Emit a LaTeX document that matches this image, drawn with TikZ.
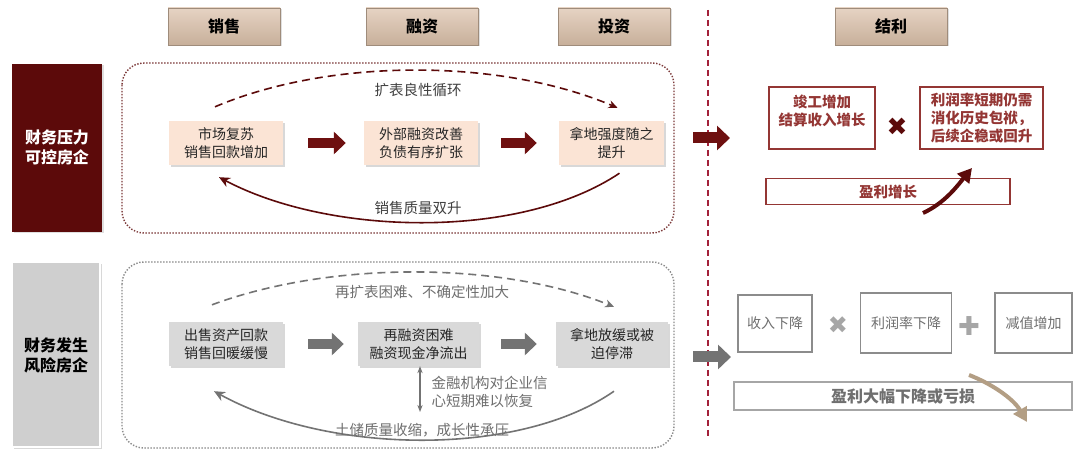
\documentclass[tikz,border=0pt]{standalone}
\usepackage{fontspec}
\setmainfont{Noto Sans CJK SC}
\newfontfamily\symfont{DejaVu Sans}
\usetikzlibrary{arrows.meta,shadows,calc,positioning}
\definecolor{maroon}{HTML}{5C0A0A}
\definecolor{arrowred}{HTML}{6E1010}
\definecolor{boxred}{HTML}{943634}
\definecolor{linered}{HTML}{A3213A}
\definecolor{peach}{HTML}{FBE4D5}
\definecolor{tanlight}{HTML}{E6D3C3}
\definecolor{tandark}{HTML}{C7AF9A}
\definecolor{greyfill}{HTML}{D9D9D9}
\definecolor{greyline}{HTML}{8C8C8C}
\definecolor{greytext}{HTML}{6F6F6F}
\definecolor{swooshtan}{HTML}{B39E84}
\tikzset{
  headbox/.style={top color=tanlight, bottom color=tandark, draw=tandark!80!black, minimum width=112pt, minimum height=37pt, font=\fontsize{16}{18}\selectfont\bfseries, drop shadow={opacity=0.25,shadow xshift=1.5pt,shadow yshift=-1.5pt}},
  stage/.style={align=center, minimum width=114pt, minimum height=44pt, text=black!85, font=\fontsize{14}{18}\selectfont, drop shadow={opacity=0.3,shadow xshift=2pt,shadow yshift=-2pt}},
  goodstage/.style={stage, fill=peach},
  badstage/.style={stage, fill=greyfill},
  blockarrow/.style={line width=10pt, -{Triangle[length=12pt,width=22pt]}},
  arclabel/.style={font=\fontsize{14.5}{18}\selectfont},
  profitbox/.style={draw=boxred, line width=1.5pt, text=boxred, align=center, font=\fontsize{14.5}{18}\selectfont\bfseries},
  lossbox/.style={draw=greyline, line width=1.8pt, text=greytext, align=center, font=\fontsize{14}{18}\selectfont},
}
\begin{document}
\begin{tikzpicture}[x=1pt,y=-1pt]
\useasboundingbox[fill=white] (0,0) rectangle (1080,462);
%HEADERS
\node (hsale) at (224,26.5) [headbox] {销售};
\node (hfin) at (422,26.5) [headbox] {融资};
\node (hinv) at (614,26.5) [headbox] {投资};
\node (hprof) at (891,26.5) [headbox] {结利};

%DIVIDER
\draw[linered, line width=1.3pt, dash pattern=on 6pt off 4pt] (708,10) -- (708,437);

%GOOD FIRMS
\node (good) at (57,148) [fill=maroon, text=white, minimum width=90pt, minimum height=168pt, align=center, font=\fontsize{16}{20}\selectfont\bfseries, drop shadow={opacity=0.25,shadow xshift=1.5pt,shadow yshift=-1.5pt}] {财务压力\\可控房企};
\draw[maroon!80, line width=1.4pt, dash pattern=on 1.4pt off 1.6pt, rounded corners=22pt] (122,63) rectangle (674,233);
\node (sell) at (226,143) [goodstage] {市场复苏\\销售回款增加};
\node (finance) at (421,143) [goodstage] {外部融资改善\\负债有序扩张};
\node (invest) at (611.5,143) [goodstage, minimum width=105pt] {拿地强度随之\\提升};
\draw[blockarrow, arrowred, shorten <=25pt, shorten >=18pt] (sell.east) -- (finance.west);
\draw[blockarrow, arrowred, shorten <=23pt, shorten >=22pt] (finance.east) -- (invest.west);
\draw[maroon, line width=1.6pt, dash pattern=on 8pt off 5pt, -{Stealth[length=9pt,width=8pt]}] ($(sell.north)+(-11,-14)$) .. controls (330,58) and (500,58) .. ($(invest.north)+(6,-13)$);
\node (loop) at (418,90) [arclabel, text=black!75] {扩表良性循环};
\draw[maroon, line width=1.6pt, -{Stealth[length=11pt,width=10pt]}] ($(invest.south)+(8,8)$) .. controls (520,240) and (330,236) .. ($(sell.south)+(-7,12)$);
\node (quality) at (418,208) [arclabel, text=black!75] {销售质量双升};

%GOOD PROFIT
\coordinate (gfrom) at (693,138);
\coordinate (gto) at (730,138);
\draw[blockarrow, arrowred, line width=11pt, -{Triangle[length=13pt,width=24pt]}] (gfrom) -- (gto);
\node (done) at (822,118) [profitbox, minimum width=106pt, minimum height=62pt, anchor=center, text depth=16pt] {竣工增加\\结算收入增长};
\node (margin) at (981.5,118) [profitbox, minimum width=123pt, minimum height=62pt] {利润率短期仍需\\消化历史包袱，\\后续企稳或回升};
\node (times) at (897,127) [text=maroon, font=\symfont\fontsize{25}{25}\selectfont] {✖};
\node (grow) at (888,191.5) [profitbox, minimum width=244pt, minimum height=26pt, inner sep=0pt] {盈利增长};
\coordinate (up1) at (923,213);
\coordinate (up2) at (972,168);
\draw[maroon, line width=4pt, -{Triangle[length=14pt,width=15pt]}] (up1) .. controls (945,203) and (958,185) .. (up2);

%RISK FIRMS
\node (risk) at (56,355) [fill=black!19, draw=white, line width=2pt, minimum width=88pt, minimum height=185pt, align=center, font=\fontsize{16}{20}\selectfont\bfseries, drop shadow={opacity=0.3,shadow xshift=1.5pt,shadow yshift=-1.5pt}] {财务发生\\风险房企};
\draw[greyline, line width=1.4pt, dash pattern=on 1.4pt off 1.6pt, rounded corners=22pt] (122,262) rectangle (674,448);
\node (sellb) at (226,344) [badstage] {出售资产回款\\销售回暖缓慢};
\node (financeb) at (418.5,344) [badstage, minimum width=121pt] {再融资困难\\融资现金净流出};
\node (investb) at (612,344) [badstage, minimum width=112pt] {拿地放缓或被\\迫停滞};
\draw[blockarrow, black!55, shorten <=25pt, shorten >=14pt] (sellb.east) -- (financeb.west);
\draw[blockarrow, black!55, shorten <=22pt, shorten >=19pt] (financeb.east) -- (investb.west);
\draw[black!55, line width=1.6pt, dash pattern=on 8pt off 5pt, -{Stealth[length=9pt,width=8pt]}] ($(sellb.north)+(-14,-17)$) .. controls (330,261) and (500,261) .. ($(investb.north)+(2,-15)$);
\node (rexp) at (422,292) [arclabel, text=greytext] {再扩表困难、不确定性加大};
\draw[black!55, line width=1.6pt, -{Stealth[length=11pt,width=10pt]}] ($(investb.south)+(2,25)$) .. controls (520,457) and (330,455) .. ($(sellb.south)+(-12,25)$);
\node (land) at (422,430) [arclabel, text=greytext] {土储质量收缩，成长性承压};
\coordinate (trust) at (420,412);
\draw[black!55, line width=1.3pt, {Stealth[length=7pt]}-{Stealth[length=7pt]}] (financeb.south -| trust) -- (trust);
\node (credit) at (428,392) [anchor=west, align=left, text=greytext, font=\fontsize{14.5}{18}\selectfont] {金融机构对企业信\\心短期难以恢复};

%RISK PROFIT
\coordinate (bfrom) at (693,357);
\coordinate (bto) at (731,357);
\draw[blockarrow, black!55, line width=11pt, -{Triangle[length=13pt,width=24pt]}] (bfrom) -- (bto);
\node (income) at (775,323.5) [lossbox, minimum width=74pt, minimum height=57pt] {收入下降};
\node (times2) at (838,325) [text=black!35, font=\symfont\fontsize{24}{24}\selectfont] {✖};
\node (marginb) at (906,323) [lossbox, minimum width=91pt, minimum height=60pt] {利润率下降};
\node (plus) at (969,326) [text=black!35, font=\symfont\fontsize{26}{26}\selectfont] {✚};
\node (impair) at (1033.5,323) [lossbox, minimum width=77pt, minimum height=60pt] {减值增加};
\node (loss) at (903,396) [lossbox, draw=black!35, minimum width=338pt, minimum height=28pt, inner sep=0pt, font=\fontsize{16}{18}\selectfont\bfseries] {盈利大幅下降或亏损};
\coordinate (down1) at (969,375);
\coordinate (down2) at (1027,422);
\draw[swooshtan, line width=4pt, -{Triangle[length=14pt,width=15pt]}] (down1) .. controls (990,383) and (1013,398) .. (down2);
\end{tikzpicture}
\end{document}
